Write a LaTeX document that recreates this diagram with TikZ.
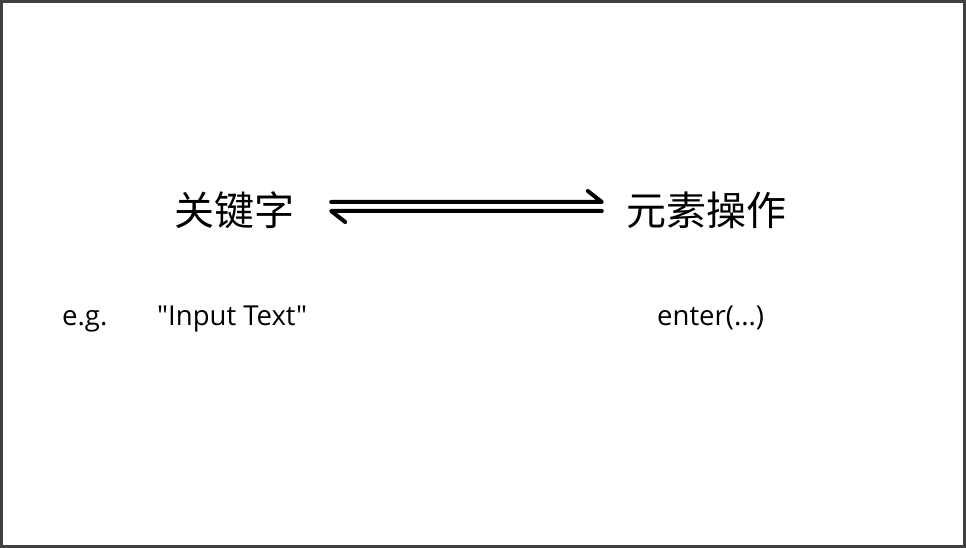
\documentclass[tikz,border=0pt]{standalone}
\usepackage{fontspec}
\setmainfont{Open Sans}[Ligatures=TeXOff]
\newfontfamily\cjk{Noto Sans CJK SC}
\usepackage{tikz}
\usetikzlibrary{positioning}
\usetikzlibrary{calc}
\tikzstyle{word} = [inner sep=0pt, font=\cjk\fontsize{40}{48}\selectfont]
\tikzstyle{eg} = [inner sep=0pt, anchor=base west, font=\fontsize{27.5}{33}\selectfont]
\tikzstyle{harp} = [line width=4pt, line cap=round, line join=round]

\begin{document}
\begin{tikzpicture}[x=1pt, y=-1pt]

  \useasboundingbox (0,0) rectangle (966,548);
  % frame
  \draw[line width=3pt, black!75] (1.5,1.5) rectangle (964.5,546.5);

  % top row
  \node[word] (kw) at (234,210) {关键字};
  \node[word] (op) at (706,210) {元素操作};

  % bottom row
  \node[eg] (eg) at (62,325) {e.g.};
  \node[eg] (input) at (157,325) {"Input Text"};
  \node[eg] (enter) at (657,325) {enter(...)};

  % double harpoon
  \coordinate (t1) at ($(kw.east)+(37,-8)$);
  \coordinate (t2) at ($(op.west)+(-24,-8)$);
  \coordinate (b1) at ($(op.west)+(-24,1)$);
  \coordinate (b2) at ($(kw.east)+(37,1)$);
  \draw[harp] (t1) -- (t2) -- ++(-14,-11);
  \draw[harp] (b1) -- (b2) -- ++(14,11);

\end{tikzpicture}
\end{document}
